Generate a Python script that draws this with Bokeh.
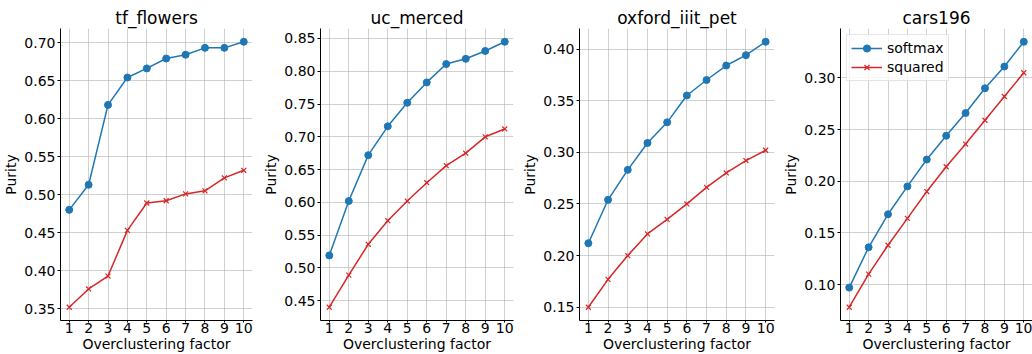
from bokeh.plotting import figure
from bokeh.layouts import row
from bokeh.models import FixedTicker, NumeralTickFormatter, Range1d, Legend, LegendItem
from bokeh.embed import file_html
from bokeh.resources import INLINE

factors = [1, 2, 3, 4, 5, 6, 7, 8, 9, 10]

titles = ["tf_flowers", "uc_merced", "oxford_iiit_pet", "cars196"]

tf_flowers_softmax = [0.480, 0.513, 0.618, 0.654, 0.666, 0.679, 0.684, 0.693, 0.693, 0.701]
tf_flowers_squared = [0.352, 0.376, 0.393, 0.453, 0.489, 0.492, 0.501, 0.505, 0.522, 0.532]

uc_merced_softmax = [0.519, 0.602, 0.672, 0.716, 0.752, 0.783, 0.811, 0.819, 0.831, 0.845]
uc_merced_squared = [0.440, 0.489, 0.536, 0.572, 0.602, 0.630, 0.656, 0.675, 0.700, 0.712]

oxford_softmax = [0.212, 0.254, 0.283, 0.309, 0.329, 0.355, 0.370, 0.384, 0.394, 0.407]
oxford_squared = [0.150, 0.177, 0.200, 0.221, 0.235, 0.250, 0.266, 0.280, 0.292, 0.302]

cars_softmax = [0.097, 0.136, 0.168, 0.195, 0.221, 0.244, 0.266, 0.290, 0.311, 0.335]
cars_squared = [0.078, 0.110, 0.138, 0.164, 0.190, 0.214, 0.236, 0.259, 0.282, 0.305]

y_ticks = [
    [0.35, 0.40, 0.45, 0.50, 0.55, 0.60, 0.65, 0.70],
    [0.45, 0.50, 0.55, 0.60, 0.65, 0.70, 0.75, 0.80, 0.85],
    [0.15, 0.20, 0.25, 0.30, 0.35, 0.40],
    [0.10, 0.15, 0.20, 0.25, 0.30],
]

series = [
    (tf_flowers_softmax, tf_flowers_squared),
    (uc_merced_softmax, uc_merced_squared),
    (oxford_softmax, oxford_squared),
    (cars_softmax, cars_squared),
]

BLUE = "#1f77b4"
RED = "#d62728"
FONT = "DejaVu Sans"

fig_widths = [260, 258, 259, 255]
borders_left = [57, 58, 61, 63]

figs = []
for i in range(4):
    soft, sq = series[i]
    lo = min(min(soft), min(sq))
    hi = max(max(soft), max(sq))
    pad = (hi - lo) * 0.05
    p = figure(
        width=fig_widths[i], height=354,
        output_backend="svg", toolbar_location=None,
        x_range=Range1d(0.55, 10.45), y_range=Range1d(lo - pad, hi + pad),
        min_border_left=borders_left[i],
        min_border_right=max(0, fig_widths[i] - borders_left[i] - 195),
        min_border_top=28, min_border_bottom=33,
        title=titles[i],
    )
    p.title.text_font = FONT
    p.title.text_font_size = "17px"
    p.title.text_font_style = "normal"
    p.title.align = "center"
    p.title.text_color = "#000000"
    p.title.standoff = 2

    p.outline_line_color = None
    p.background_fill_color = "white"
    p.border_fill_color = "white"

    for ax in (p.xaxis[0], p.yaxis[0]):
        ax.axis_line_color = "#000000"
        ax.axis_line_width = 1
        ax.major_tick_line_color = "#000000"
        ax.major_tick_in = 0
        ax.major_tick_out = 3
        ax.minor_tick_line_color = None
        ax.major_label_text_font = FONT
        ax.major_label_text_font_size = "14px"
        ax.major_label_text_color = "#000000"
        ax.axis_label_text_font = FONT
        ax.axis_label_text_font_size = "14px"
        ax.axis_label_text_font_style = "normal"
        ax.axis_label_text_color = "#000000"
        ax.major_label_standoff = 2
        ax.axis_label_standoff = 2

    p.xaxis.major_label_standoff = 0
    p.xaxis.axis_label_standoff = 0
    p.xaxis.major_tick_out = 2

    p.xaxis.axis_label = "Overclustering factor"
    p.yaxis.axis_label = "Purity"
    p.xaxis.ticker = FixedTicker(ticks=factors)
    p.yaxis.ticker = FixedTicker(ticks=y_ticks[i])
    p.yaxis.formatter = NumeralTickFormatter(format="0.00")

    p.xgrid.ticker = FixedTicker(ticks=factors)
    p.ygrid.ticker = FixedTicker(ticks=y_ticks[i])
    for g in (p.xgrid[0], p.ygrid[0]):
        g.grid_line_color = "#b0b0b0"
        g.grid_line_alpha = 0.6
        g.grid_line_width = 1

    l1 = p.line(factors, soft, color=BLUE, line_width=1.5)
    s1 = p.scatter(factors, soft, marker="circle", size=7, color=BLUE)
    l2 = p.line(factors, sq, color=RED, line_width=1.5)
    s2 = p.scatter(factors, sq, marker="x", size=7, color=RED, line_width=1.2)

    if i == 3:
        legend = Legend(items=[
            LegendItem(label="softmax", renderers=[l1, s1]),
            LegendItem(label="squared", renderers=[l2, s2]),
        ], location="top_left")
        legend.label_text_font = FONT
        legend.label_text_font_size = "14px"
        legend.label_text_color = "#000000"
        legend.border_line_color = "#cccccc"
        legend.border_line_width = 1
        legend.background_fill_alpha = 0.8
        legend.glyph_width = 31
        legend.glyph_height = 18
        legend.label_height = 18
        legend.label_standoff = 5
        legend.padding = 4
        legend.spacing = 1
        legend.margin = 6
        p.add_layout(legend, "center")

    figs.append(p)

layout = row(*figs)
open("out.html", "w").write(file_html(layout, INLINE))
